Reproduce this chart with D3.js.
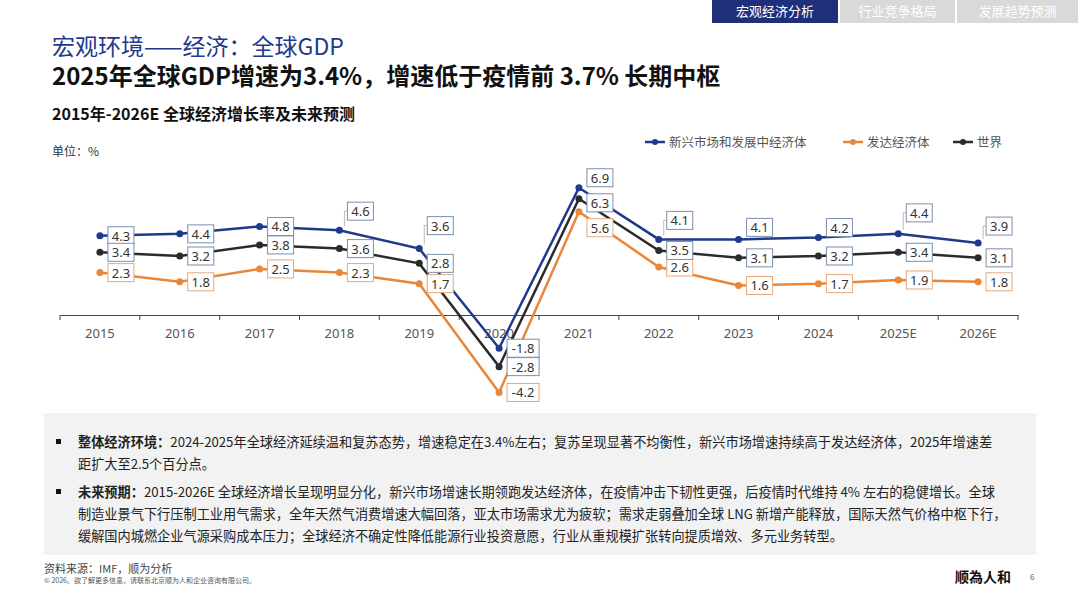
<!DOCTYPE html>
<html><head><meta charset="utf-8">
<script src="https://cdn.jsdelivr.net/npm/d3@7/dist/d3.min.js"></script>
<style>body{margin:0;background:#fff;font-family:"Noto Sans CJK SC","Noto Sans",sans-serif}</style>
</head><body><svg id="c" width="1080" height="608"></svg>
<script>
const years=["2015","2016","2017","2018","2019","2020","2021","2022","2023","2024","2025E","2026E"];
const emerging=[4.3,4.4,4.8,4.6,3.6,-1.8,6.9,4.1,4.1,4.2,4.4,3.9];
const advanced=[2.3,1.8,2.5,2.3,1.7,-4.2,5.6,2.6,1.6,1.7,1.9,1.8];
const world=[3.4,3.2,3.8,3.6,2.8,-2.8,6.3,3.5,3.1,3.2,3.4,3.1];
const labelShiftE=[0,0,0,-19,-23,0,-10,-19,-12,-10,-21,-17];
const labelShiftA=[0,0,0,0,0,0,16,0,0,0,0,0];
const labelShiftW=[0,0,0,0,0,0,4,0,0,0,0,0];
const series=[
 {name:"新兴市场和发展中经济体",values:emerging,color:"#1f3a8a",box:"#7a8fb0",shift:labelShiftE},
 {name:"发达经济体",values:advanced,color:"#e8873a",box:"#e8a878",shift:labelShiftA},
 {name:"世界",values:world,color:"#2b2b2b",box:"#7a8fb0",shift:labelShiftW}];
const svg=d3.select("#c");
const tabs=["宏观经济分析","行业竞争格局","发展趋势预测"];
const tx=[712,840,957],tw=[126,115,121];
tabs.forEach((t,i)=>{svg.append("rect").attr("x",tx[i]).attr("y",0).attr("width",tw[i]).attr("height",23).attr("fill",i?"#d9d9d9":"#1f2f7a");
 svg.append("text").attr("x",tx[i]+tw[i]/2).attr("y",16).attr("text-anchor","middle").attr("font-size",13).attr("fill","#fff").text(t);});
svg.append("text").attr("x",52).attr("y",55).attr("font-size",23).attr("fill","#1f3a8a").text("宏观环境——经济：全球GDP");
svg.append("text").attr("x",52).attr("y",85).attr("font-size",24).attr("font-weight","bold").attr("fill","#111").text("2025年全球GDP增速为3.4%，增速低于疫情前 3.7% 长期中枢");
svg.append("text").attr("x",52).attr("y",120).attr("font-size",16).attr("font-weight","bold").attr("fill","#111").text("2015年-2026E 全球经济增长率及未来预测");
svg.append("text").attr("x",52).attr("y",156).attr("font-size",12).attr("fill","#333").text("单位：%");
const lx=[645,843,953];
series.forEach((s,i)=>{const g=svg.append("g");
 g.append("line").attr("x1",lx[i]).attr("x2",lx[i]+20).attr("y1",142).attr("y2",142).attr("stroke",s.color).attr("stroke-width",2.5);
 g.append("circle").attr("cx",lx[i]+10).attr("cy",142).attr("r",3).attr("fill",s.color);
 g.append("text").attr("x",lx[i]+24).attr("y",146.5).attr("font-size",12.5).attr("fill","#555").text(s.name);});
const x=d3.scaleBand().domain(years).range([60,1018]);
const y=d3.scaleLinear().domain([0,4.3]).range([315,235.7]);
const ax=svg.append("g").attr("transform","translate(0,315)").call(d3.axisBottom(x).tickSize(0).tickPadding(14).tickFormat(d=>d));
ax.select(".domain").attr("stroke","#444").attr("stroke-width",1.2);
ax.selectAll("text").attr("font-size",13).attr("fill","#555").attr("font-family","Noto Sans");
svg.append("g").selectAll("line").data(d3.range(13)).join("line")
 .attr("x1",i=>60+i*x.step()).attr("x2",i=>60+i*x.step()).attr("y1",315).attr("y2",320).attr("stroke","#444");
const cx=d=>x(d)+x.bandwidth()/2;
const line=d3.line().x((d,i)=>cx(years[i])).y(d=>y(d));
series.forEach(s=>{
 svg.append("path").attr("d",line(s.values)).attr("fill","none").attr("stroke",s.color).attr("stroke-width",2.5);
 svg.append("g").selectAll("circle").data(s.values).join("circle").attr("cx",(d,i)=>cx(years[i])).attr("cy",d=>y(d)).attr("r",3.5).attr("fill",s.color);
});
series.forEach(s=>{
 s.values.forEach((v,i)=>{const px=cx(years[i])+8,py=y(v)+s.shift[i];
  if(Math.abs(s.shift[i])>15&&s.name!=="发达经济体") svg.append("polyline").attr("points",`${px},${py} ${px-3},${py} ${px-3},${y(v)-4}`).attr("fill","none").attr("stroke","#aaa").attr("stroke-width",0.8);
  svg.append("rect").attr("x",px).attr("y",py-9).attr("width",v<0?32:26).attr("height",18).attr("fill","#fff").attr("stroke",s.box).attr("stroke-width",1);
  svg.append("text").attr("x",px+(v<0?16:13)).attr("y",py+5).attr("text-anchor","middle").attr("font-size",13).attr("fill","#333").attr("font-family","Noto Sans").text(v.toFixed(1));
 });});
svg.append("rect").attr("x",44).attr("y",413).attr("width",992).attr("height",142).attr("fill","#f2f2f2");
const para=[["整体经济环境：","2024-2025年全球经济延续温和复苏态势，增速稳定在3.4%左右；复苏呈现显著不均衡性，新兴市场增速持续高于发达经济体，2025年增速差","距扩大至2.5个百分点。"],
["未来预期：","2015-2026E 全球经济增长呈现明显分化，新兴市场增速长期领跑发达经济体，在疫情冲击下韧性更强，后疫情时代维持 4% 左右的稳健增长。全球","制造业景气下行压制工业用气需求，全年天然气消费增速大幅回落，亚太市场需求尤为疲软；需求走弱叠加全球 LNG 新增产能释放，国际天然气价格中枢下行，","缓解国内城燃企业气源采购成本压力；全球经济不确定性降低能源行业投资意愿，行业从重规模扩张转向提质增效、多元业务转型。"]];
const py0=[447,497];
para.forEach((p,k)=>{svg.append("rect").attr("x",56).attr("y",py0[k]-8).attr("width",5).attr("height",5).attr("fill","#111");
 const t=svg.append("text").attr("x",78).attr("y",py0[k]).attr("font-size",13.2).attr("fill","#222");
 t.append("tspan").attr("font-weight","bold").text(p[0]);t.append("tspan").text(p[1]);
 p.slice(2).forEach((l,j)=>svg.append("text").attr("x",78).attr("y",py0[k]+22*(j+1)).attr("font-size",13.2).attr("fill","#222").text(l));});
svg.append("text").attr("x",44).attr("y",573).attr("font-size",11).attr("fill","#444").text("资料来源：IMF，顺为分析");
svg.append("text").attr("x",44).attr("y",583).attr("font-size",7).attr("fill","#555").text("© 2026。欲了解更多信息，请联系北京顺为人和企业咨询有限公司。");
svg.append("text").attr("x",955).attr("y",582).attr("font-size",14).attr("font-weight","bold").attr("fill","#111").text("顺為人和");
svg.append("text").attr("x",1030).attr("y",580).attr("font-size",8).attr("fill","#555").text("6");
</script></body></html>
